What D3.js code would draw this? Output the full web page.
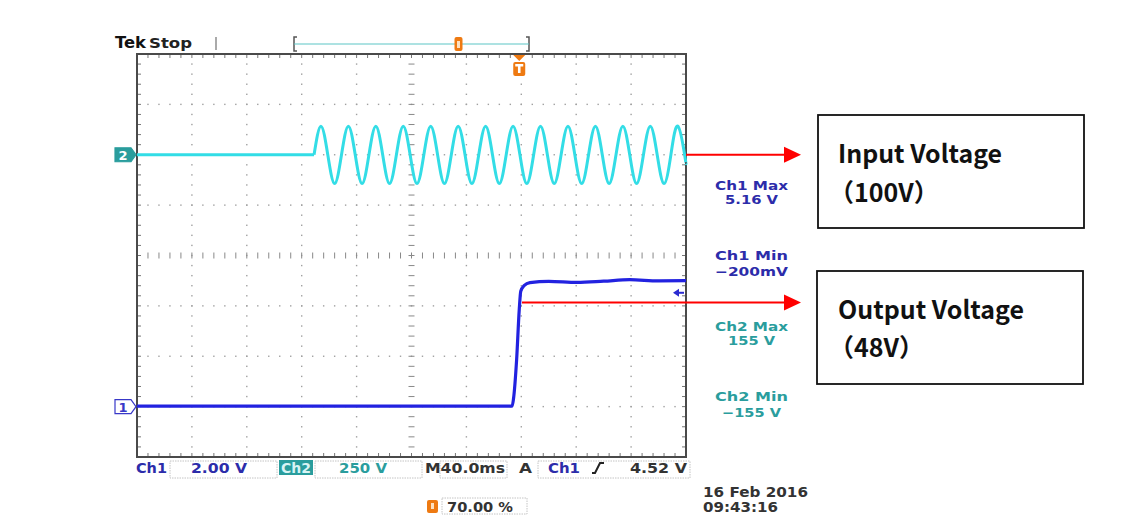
<!DOCTYPE html>
<html><head><meta charset="utf-8">
<script src="https://cdn.jsdelivr.net/npm/d3@7"></script>
<style>html,body{margin:0;padding:0;background:#fff;} svg{display:block;}</style>
</head><body><svg id="c" width="1126" height="522"></svg>
<script>
// ---------------- data ----------------
// Ch2 (input, 250 V/div): time in ms from left edge of screen, volts
const ch2Times = [0, 60, 129, 134, 139, 144, 149, 154, 159, 164, 169, 174, 179, 184, 189, 194, 199, 204, 209, 214,
  219, 224, 229, 234, 239, 244, 249, 254, 259, 264, 269, 274, 279, 284, 289, 294, 299, 304, 309, 314,
  319, 324, 329, 334, 339, 344, 349, 354, 359, 364, 369, 374, 379, 384, 389, 394, 399, 400];
const ch2Volts = [0, 0, 0, 142, 0, -143, 0, 142, 0, -143, 0, 142, 0, -143, 0, 142, 0, -143, 0, 142,
  0, -143, 0, 142, 0, -143, 0, 142, 0, -143, 0, 142, 0, -143, 0, 142, 0, -143, 0, 142,
  0, -143, 0, 142, 0, -143, 0, 142, 0, -143, 0, 142, 0, -143, 0, 142, 0, -44];
const ch2AcStart = 129;
// Ch1 (output, 2 V/div)
const ch1Times = [0, 273.3, 274.3, 276.6, 278.5, 279.6, 282, 286.3, 300, 320.6, 340, 359, 380, 400];
const ch1Volts = [0.02, 0.02, 0.3, 1.87, 3.85, 4.58, 4.8, 4.92, 4.97, 4.93, 4.98, 5.04, 4.99, 5.0];

const ch1VoltsPerDiv = 2, ch2VoltsPerDiv = 250;
const ch1OffsetDiv = -3, ch2OffsetDiv = 2;
const msPerDiv = 40;
const triggerLevel = 4.52, triggerTime = 278.5, triggerPct = 70.0;

const readoutTitles = ["Ch1 Max", "Ch1 Min", "Ch2 Max", "Ch2 Min"];
const readoutValues = ["5.16 V", "\u2212200mV", "155 V", "\u2212155 V"];
const statusTexts = ["Ch1", "2.00 V", "Ch2", "250 V", "M40.0ms", "A", "Ch1", "4.52 V", "70.00 %"];
const dateTexts = ["16 Feb  2016", "09:43:16"];
const annotTitles = ["Input Voltage", "Output Voltage"];
const annotValues = ["\uFF08100V\uFF09", "\uFF0848V\uFF09"];

// ---------------- drawing ----------------
const svg = d3.select("#c");
svg.append("rect").attr("width", 1126).attr("height", 522).attr("fill", "#fff");

const L = 137, R = 686, TOP = 54, BOT = 457;
const xDiv = d3.scaleLinear().domain([0, 10]).range([L, R]);
const yDiv = d3.scaleLinear().domain([-4, 4]).range([BOT, TOP]);
const x = d3.scaleLinear().domain([0, 10 * msPerDiv]).range([L, R]);
const y1 = v => yDiv(v / ch1VoltsPerDiv + ch1OffsetDiv);
const y2 = v => yDiv(v / ch2VoltsPerDiv + ch2OffsetDiv);

const TEAL = "#2a9d9d", BLUE = "#2c2caa", CYAN = "#33dde6", TRACE1 = "#2222e0", ORANGE = "#ee7a12", FRAME = "#4a4a4a";

function T(xp, yp, s, o = {}) {
  const t = svg.append("text").attr("x", xp).attr("y", yp).text(s)
    .attr("font-family", o.family || "DejaVu Sans")
    .attr("font-size", o.size || 12)
    .attr("font-weight", o.weight || "bold")
    .attr("fill", o.fill || "#222")
    .attr("text-anchor", o.anchor || "start");
  if (o.len) t.attr("textLength", o.len).attr("lengthAdjust", "spacingAndGlyphs");
  return t;
}

// grid dots
const g = svg.append("g");
const minorX = d3.range(0, 50.001, 1).map(i => i / 5);
const minorY = d3.range(-20, 20.001, 1).map(i => i / 5);
[1, 2, 3, 4, 6, 7, 8, 9].forEach(k => {
  minorY.forEach(v => g.append("rect").attr("x", xDiv(k) - 0.7).attr("y", yDiv(v) - 0.7)
    .attr("width", 1.4).attr("height", 1.4).attr("fill", "#a0a0a0"));
});
[-3, -2, -1, 1, 2, 3].forEach(k => {
  minorX.forEach(u => g.append("rect").attr("x", xDiv(u) - 0.7).attr("y", yDiv(k) - 0.7)
    .attr("width", 1.4).attr("height", 1.4).attr("fill", "#a0a0a0"));
});
// center cross ticks
minorY.forEach(v => g.append("line").attr("x1", xDiv(5) - 3).attr("x2", xDiv(5) + 3)
  .attr("y1", yDiv(v)).attr("y2", yDiv(v)).attr("stroke", "#888").attr("stroke-width", 1));
minorX.forEach(u => g.append("line").attr("y1", yDiv(0) - 3).attr("y2", yDiv(0) + 3)
  .attr("x1", xDiv(u)).attr("x2", xDiv(u)).attr("stroke", "#888").attr("stroke-width", 1));
// edge ticks
minorX.forEach(u => {
  g.append("line").attr("x1", xDiv(u)).attr("x2", xDiv(u)).attr("y1", TOP).attr("y2", TOP + 4).attr("stroke", "#777");
  g.append("line").attr("x1", xDiv(u)).attr("x2", xDiv(u)).attr("y1", BOT).attr("y2", BOT - 4).attr("stroke", "#777");
});
minorY.forEach(v => {
  g.append("line").attr("x1", L).attr("x2", L + 4).attr("y1", yDiv(v)).attr("y2", yDiv(v)).attr("stroke", "#777");
  g.append("line").attr("x1", R).attr("x2", R - 4).attr("y1", yDiv(v)).attr("y2", yDiv(v)).attr("stroke", "#777");
});
// frame
g.append("rect").attr("x", L).attr("y", TOP).attr("width", R - L).attr("height", BOT - TOP)
  .attr("fill", "none").attr("stroke", FRAME).attr("stroke-width", 2);

// traces
const ch2Pts = ch2Times.map((t, i) => [t, ch2Volts[i]]);
const flat = ch2Pts.filter(p => p[0] <= ch2AcStart);
const ac = ch2Pts.filter(p => p[0] >= ch2AcStart);
svg.append("path").datum(flat).attr("fill", "none").attr("stroke", CYAN).attr("stroke-width", 3.2)
  .attr("d", d3.line().x(d => x(d[0])).y(d => y2(d[1])));
svg.append("path").datum(ac).attr("fill", "none").attr("stroke", CYAN).attr("stroke-width", 3)
  .attr("d", d3.line().x(d => x(d[0])).y(d => y2(d[1])).curve(d3.curveNatural));
const ch1Pts = ch1Times.map((t, i) => [t, ch1Volts[i]]);
svg.append("path").datum(ch1Pts).attr("fill", "none").attr("stroke", TRACE1).attr("stroke-width", 3.2)
  .attr("d", d3.line().x(d => x(d[0])).y(d => y1(d[1])).curve(d3.curveMonotoneX));

// channel ground markers
function marker(yc, fill, stroke, txtFill, label) {
  svg.append("path").attr("d", `M115,${yc - 7}L131,${yc - 7}L136,${yc}L131,${yc + 7}L115,${yc + 7}Z`)
    .attr("fill", fill).attr("stroke", stroke).attr("stroke-width", 1.2);
  T(123, yc + 5, label, { size: 13, fill: txtFill, anchor: "middle" });
}
marker(y2(0), TEAL, TEAL, "#fff", "2");
marker(y1(0), "#fff", "#3838c8", "#3838c8", "1");

// trigger level arrow (Ch1) at right edge
const ty = y1(triggerLevel);
svg.append("path").attr("d", `M673,${ty}L679,${ty - 4}L679,${ty + 4}Z`).attr("fill", "#2a2ad0");
svg.append("line").attr("x1", 678).attr("x2", 684).attr("y1", ty).attr("y2", ty).attr("stroke", "#2a2ad0").attr("stroke-width", 2);

// header
T(115, 48, "Tek", { size: 16, fill: "#111", weight: 900, len: 31 });
T(149, 48, "Stop", { size: 14, fill: "#222", weight: 600, len: 43 });
svg.append("line").attr("x1", 216).attr("x2", 216).attr("y1", 37).attr("y2", 50).attr("stroke", "#aaa").attr("stroke-width", 2);
const bL = 294, bR = 529;
svg.append("path").attr("d", `M${bL + 3},37L${bL},37L${bL},51L${bL + 3},51`).attr("fill", "none").attr("stroke", "#555").attr("stroke-width", 1.5);
svg.append("path").attr("d", `M${bR - 3},37L${bR},37L${bR},51L${bR - 3},51`).attr("fill", "none").attr("stroke", "#555").attr("stroke-width", 1.5);
svg.append("line").attr("x1", bL).attr("x2", bR).attr("y1", 44).attr("y2", 44).attr("stroke", "#5cc6c6").attr("stroke-width", 1.2);
const mx = bL + (bR - bL) * triggerPct / 100;
svg.append("rect").attr("x", mx - 4).attr("y", 37).attr("width", 8).attr("height", 14).attr("rx", 2).attr("fill", ORANGE);
svg.append("rect").attr("x", mx - 1.5).attr("y", 41).attr("width", 3).attr("height", 7).attr("fill", "#fde0c0");
// trigger position marker
const tx = x(triggerTime);
svg.append("path").attr("d", `M${tx - 6},55L${tx + 6},55L${tx},61Z`).attr("fill", ORANGE);
svg.append("rect").attr("x", tx - 6).attr("y", 62).attr("width", 12).attr("height", 14).attr("rx", 2).attr("fill", ORANGE);
svg.append("rect").attr("x", tx - 4).attr("y", 64).attr("width", 8).attr("height", 2.5).attr("fill", "#fff");
svg.append("rect").attr("x", tx - 1.3).attr("y", 64).attr("width", 2.6).attr("height", 9).attr("fill", "#fff");

// readouts
const rBase = [[190, 204], [260, 276], [331, 345], [401, 417]];
const rLen = [[73, 53], [73, 73], [73, 47], [73, 59]];
readoutTitles.forEach((s, i) => {
  const col = i < 2 ? BLUE : TEAL;
  T(751.5, rBase[i][0], s, { size: 12.5, fill: col, anchor: "middle", len: rLen[i][0] });
  T(751.5, rBase[i][1], readoutValues[i], { size: 12.5, fill: col, anchor: "middle", len: rLen[i][1] });
});

// status bar
function sbox(x0, y0, w, h) {
  svg.append("rect").attr("x", x0).attr("y", y0).attr("width", w).attr("height", h)
    .attr("fill", "#fff").attr("stroke", "#c4c4c4").attr("stroke-width", 1).attr("stroke-dasharray", "1.5,1");
}
sbox(170, 461, 107, 17);
sbox(315, 461, 107, 17);
sbox(440, 461, 67, 17);
sbox(538, 461, 152, 17);
sbox(442, 498, 85, 16);
T(136, 473, statusTexts[0], { size: 13.5, fill: BLUE, len: 31 });
T(191, 473, statusTexts[1], { size: 13.5, fill: BLUE, len: 56 });
svg.append("rect").attr("x", 279).attr("y", 460).attr("width", 34).attr("height", 15).attr("fill", TEAL);
T(281, 473, statusTexts[2], { size: 13.5, fill: "#d8f4f4", len: 30 });
T(339, 473, statusTexts[3], { size: 13.5, fill: TEAL, len: 48 });
T(425, 473, statusTexts[4], { size: 13.5, fill: "#333", weight: "bold", len: 80 });
T(519, 473, statusTexts[5], { size: 13.5, fill: "#333", len: 13 });
T(548, 473, statusTexts[6], { size: 13.5, fill: BLUE, len: 32 });
svg.append("path").attr("d", "M592,473L595,473L600,463L604,463").attr("fill", "none").attr("stroke", "#222").attr("stroke-width", 2);
T(630, 473, statusTexts[7], { size: 13.5, fill: "#333", len: 57 });
svg.append("rect").attr("x", 427).attr("y", 500).attr("width", 11).attr("height", 13).attr("rx", 2).attr("fill", ORANGE);
svg.append("rect").attr("x", 431).attr("y", 503).attr("width", 3).attr("height", 6).attr("fill", "#fde0c0");
T(447, 512, statusTexts[8], { size: 13.5, fill: "#333", len: 66 });
T(703, 497, dateTexts[0], { size: 13.5, fill: "#333", len: 105 });
T(703, 512, dateTexts[1], { size: 13.5, fill: "#333", len: 75 });

// annotations
function arrow(x0, yA) {
  svg.append("line").attr("x1", x0).attr("x2", 786).attr("y1", yA).attr("y2", yA).attr("stroke", "#f00").attr("stroke-width", 2);
  svg.append("path").attr("d", `M784,${yA - 8}L801,${yA}L784,${yA + 8}Z`).attr("fill", "#f00");
}
arrow(R, y2(0));
arrow(522, 302.5);
const boxes = [[818, 115, 266, 113, 162.5, 201.5, 164], [817, 271, 266, 113, 318.5, 357, 186]];
boxes.forEach((b, i) => {
  svg.append("rect").attr("x", b[0]).attr("y", b[1]).attr("width", b[2]).attr("height", b[3])
    .attr("fill", "#fff").attr("stroke", "#111").attr("stroke-width", 1.8);
  T(838, b[4], annotTitles[i], { family: "Noto Sans CJK JP", size: 25, weight: "bold", fill: "#111", len: b[6] });
  T(829, b[5], annotValues[i], { family: "Noto Sans CJK JP", size: 25, weight: "bold", fill: "#111" });
});
</script></body></html>
